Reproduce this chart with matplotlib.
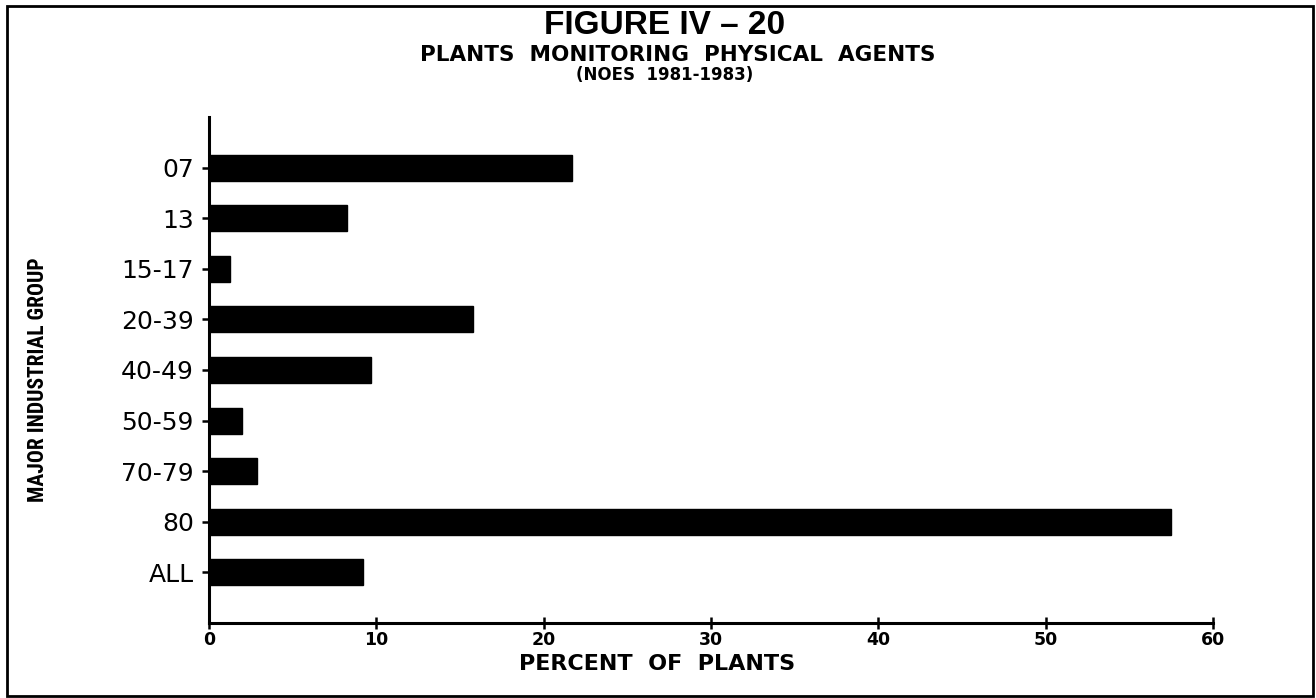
import matplotlib
matplotlib.use("Agg")
import matplotlib.pyplot as plt
from matplotlib import font_manager
from matplotlib.patches import Rectangle

# ---- data ----
groups = ["07", "13", "15-17", "20-39", "40-49", "50-59", "70-79", "80", "ALL"]
percent = [21.7, 8.25, 1.25, 15.8, 9.7, 1.95, 2.85, 57.5, 9.2]
xticks = [0, 10, 20, 30, 40, 50, 60]

title1 = "FIGURE IV \u2013 20"
title2 = "PLANTS  MONITORING  PHYSICAL  AGENTS"
title3 = "(NOES  1981-1983)"
xlabel = "PERCENT  OF  PLANTS"
ylabel = "MAJOR INDUSTRIAL GROUP"

names = {f.name for f in font_manager.fontManager.ttflist}
def pick(*cands):
    for c in cands:
        if c in names:
            return c
    return "DejaVu Sans"

narrow = pick("Liberation Sans Narrow", "Roboto Condensed", "Open Sans Condensed",
              "Liberation Sans")
helv = pick("Liberation Sans", "DejaVu Sans")
wide = pick("DejaVu Sans")

W, H = 1316, 698
fig = plt.figure(figsize=(W / 100, H / 100), dpi=100)
fig.patch.set_facecolor("white")

# outer frame
fig.add_artist(Rectangle((7 / W, 2 / H), (1313 - 7) / W, (692 - 2) / H,
                         transform=fig.transFigure, fill=False,
                         edgecolor="black", linewidth=2.0))

ax = fig.add_axes([209 / W, 1 - 623 / H, (1213 - 209) / W, (623 - 117) / H])
pos = list(range(len(groups)))
ax.barh(pos, percent, height=0.51, color="black", edgecolor="black")

ax.set_xlim(0, 60)
ax.set_ylim(len(groups) - 0.0, -1.0)
ax.set_yticks(pos)
ax.set_yticklabels(groups, fontsize=18, family=wide)
ax.set_xticks(xticks)
ax.set_xticklabels([str(v) for v in xticks], fontsize=12.5, fontweight="bold", family=wide)

for s in ["top", "right"]:
    ax.spines[s].set_visible(False)
for s in ["left", "bottom"]:
    ax.spines[s].set_linewidth(2.2)

ax.tick_params(axis="y", direction="out", length=5, width=1.8, pad=6)
ax.tick_params(axis="x", direction="inout", length=8, width=1.8, pad=2)

ax.set_xlabel(xlabel, fontsize=16, fontweight="bold", family=wide)
ax.xaxis.set_label_coords((657 - 209) / 1004, -0.062)

fig.text(38 / W, 1 - 380 / H, ylabel, rotation=90, ha="center", va="center",
         fontsize=15.5, fontweight="bold", family=narrow)

fig.text(0.505, 1 - 25 / H, title1, ha="center", va="center",
         fontsize=24, fontweight="bold", family=helv)
fig.text(0.515, 1 - 55 / H, title2, ha="center", va="center",
         fontsize=15.5, fontweight="bold", family=wide)
fig.text(0.505, 1 - 75 / H, title3, ha="center", va="center",
         fontsize=12, fontweight="bold", family=wide)

fig.savefig("out.png", dpi=100, facecolor="white")
